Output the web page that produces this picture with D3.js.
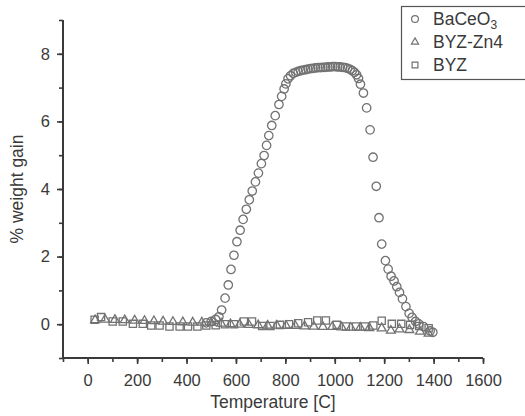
<!DOCTYPE html>
<html>
<head>
<meta charset="utf-8">
<script src="https://cdn.jsdelivr.net/npm/d3@7"></script>
<style>
  body { margin: 0; background: #fff; }
  svg { display: block; font-family: "Liberation Sans", Arial, sans-serif; }
</style>
</head>
<body>
<svg id="chart" width="525" height="416"></svg>
<script>
// BaCeO3 (circles)
const baceoTemp = [480, 500, 518, 531, 542, 556, 569, 580, 592, 604, 617, 629, 642, 654, 666, 679, 691, 703, 714, 724, 733, 745, 759, 774, 785, 795, 802, 811, 821, 832,
  842, 852, 862, 872, 882, 892, 902, 912, 922, 932, 942, 952, 962, 972, 982, 992, 1002, 1012, 1022, 1032, 1042, 1052, 1062, 1071, 1080, 1088, 1096, 1104,
  1116, 1129, 1143, 1155, 1168, 1179, 1190, 1205, 1216, 1228, 1240, 1251, 1262, 1274, 1288, 1301, 1313, 1327, 1340, 1359, 1386, 1397];
const baceoGain = [0.04, 0.08, 0.14, 0.22, 0.42, 0.77, 1.16, 1.62, 2.04, 2.44, 2.78, 3.1, 3.4, 3.68, 3.94, 4.21, 4.47, 4.75, 4.99, 5.29, 5.58, 5.88, 6.17, 6.5, 6.74, 6.96, 7.11, 7.26, 7.35, 7.42,
  7.45, 7.48, 7.5, 7.52, 7.53, 7.55, 7.56, 7.57, 7.58, 7.59, 7.59, 7.6, 7.6, 7.61, 7.61, 7.62, 7.62, 7.61, 7.61, 7.6, 7.59, 7.57, 7.54, 7.5, 7.45, 7.38, 7.27, 7.1,
  6.84, 6.4, 5.75, 4.94, 4.08, 3.15, 2.37, 1.88, 1.63, 1.42, 1.28, 1.11, 0.94, 0.75, 0.52, 0.32, 0.2, 0.08, 0.01, -0.07, -0.2, -0.24];

// BYZ-Zn4 (triangles)
const zn4Temp = [30, 70, 110, 150, 190, 230, 268, 305, 345, 385, 425, 462, 500, 540, 578, 615, 652, 690, 728, 765, 803, 840, 878, 915, 952, 990, 1028, 1065, 1103, 1140, 1190, 1227, 1262, 1302, 1345, 1380];
const zn4Gain = [0.12, 0.14, 0.13, 0.12, 0.11, 0.1, 0.09, 0.08, 0.07, 0.06, 0.05, 0.05, 0.04, 0.02, 0.0, -0.01, -0.02, -0.03, -0.04, -0.04, -0.05, -0.05, -0.06, -0.07, -0.08, -0.08, -0.09, -0.1, -0.1, -0.11, -0.12, -0.19, -0.15, -0.17, -0.22, -0.28];

// BYZ (squares)
const byzTemp = [28, 54, 101, 142, 183, 223, 257, 291, 331, 372, 406, 444, 480, 518, 555, 592, 632, 665, 706, 740, 778, 815, 852, 892, 929, 964, 1008, 1045, 1086, 1122, 1156, 1190, 1231, 1269, 1305, 1342, 1380];
const byzGain = [0.13, 0.21, 0.08, 0.08, 0.01, 0.01, -0.04, -0.04, -0.07, -0.07, -0.07, -0.07, -0.04, -0.03, 0, 0, 0.08, 0.08, -0.05, -0.05, -0.02, 0, 0.03, 0.06, 0.11, 0.11, -0.02, -0.07, -0.07, -0.07, -0.04, 0.1, 0.01, 0.01, -0.02, -0.05, -0.12];

const xTicks = [0, 200, 400, 600, 800, 1000, 1200, 1400, 1600];
const yTicks = [0, 2, 4, 6, 8];
const seriesNames = ["BaCeO\u2083", "BYZ-Zn4", "BYZ"];

const margin = {top: 20, right: 42, bottom: 58, left: 63};
const width = 525, height = 416;
const axisColor = "#3a3a3a", markColor = "#727272";

const svg = d3.select("#chart");

const x = d3.scaleLinear([-100, 1600], [margin.left, width - margin.right]);
const y = d3.scaleLinear([-1, 9], [height - margin.bottom, margin.top]);

const series = [
  {name: seriesNames[0], shape: d3.symbolCircle, size: 56, pts: baceoTemp.map((t, i) => [t, baceoGain[i]])},
  {name: seriesNames[1], shape: d3.symbolTriangle, size: 34, pts: zn4Temp.map((t, i) => [t, zn4Gain[i]])},
  {name: seriesNames[2], shape: d3.symbolSquare, size: 52, pts: byzTemp.map((t, i) => [t, byzGain[i]])}
];

// axes: minor ticks first, then major with labels
const xAxisG = svg.append("g").attr("transform", `translate(0,${height - margin.bottom})`);
xAxisG.append("g")
  .call(d3.axisBottom(x).tickValues(d3.range(-100, 1601, 100)).tickSize(4).tickFormat(""))
  .call(g => g.select(".domain").remove());
xAxisG.append("g")
  .call(d3.axisBottom(x).tickValues(xTicks).tickSize(6).tickPadding(10).tickFormat(d3.format("d")))
  .call(g => g.select(".domain").attr("d", `M${x(-100)},0H${x(1600)}`));

const yAxisG = svg.append("g").attr("transform", `translate(${margin.left},0)`);
yAxisG.append("g")
  .call(d3.axisLeft(y).tickValues(d3.range(-1, 10, 1)).tickSize(4).tickFormat(""))
  .call(g => g.select(".domain").remove());
yAxisG.append("g")
  .call(d3.axisLeft(y).tickValues(yTicks).tickSize(6).tickPadding(7))
  .call(g => g.select(".domain").attr("d", `M0,${y(-1)}V${y(9)}`));

svg.selectAll(".domain").attr("stroke", axisColor).attr("stroke-width", 2);
svg.selectAll(".tick line").attr("stroke", axisColor).attr("stroke-width", 1.6);
svg.selectAll(".tick text").attr("fill", axisColor).attr("font-size", 16.5)
  .attr("font-family", "Liberation Sans, Arial, sans-serif");

svg.append("text")
  .attr("x", x(750)).attr("y", 408)
  .attr("text-anchor", "middle").attr("fill", axisColor).attr("font-size", 17.5)
  .text("Temperature [C]");

svg.append("text")
  .attr("transform", `translate(23,${y(4)}) rotate(-90)`)
  .attr("text-anchor", "middle").attr("fill", axisColor).attr("font-size", 17.5)
  .text("% weight gain");

// marks
const sym = d3.symbol();
series.forEach(s => {
  svg.append("g")
    .selectAll("path")
    .data(s.pts)
    .join("path")
      .attr("transform", d => `translate(${x(d[0])},${y(d[1])})`)
      .attr("d", sym.type(s.shape).size(s.size)())
      .attr("fill", "none")
      .attr("stroke", markColor)
      .attr("stroke-width", 1.3);
});

// legend
const legend = svg.append("g").attr("transform", "translate(401,6)");
legend.append("rect")
  .attr("x", 0.5).attr("y", 0.5).attr("width", 130).attr("height", 73)
  .attr("fill", "#fff").attr("stroke", "#555").attr("stroke-width", 1.2);
series.forEach((s, i) => {
  const row = legend.append("g").attr("transform", `translate(0,${13 + i * 23})`);
  row.append("path")
    .attr("transform", "translate(14,0)")
    .attr("d", sym.type(s.shape).size(s.size * 0.65)())
    .attr("fill", "none").attr("stroke", markColor).attr("stroke-width", 1.2);
  const t = row.append("text").attr("x", 32).attr("y", 6).attr("fill", axisColor).attr("font-size", 17.5);
  if (i === 0) {
    t.append("tspan").text("BaCeO");
    t.append("tspan").attr("font-size", 12).attr("dy", 4).text("3");
  } else {
    t.text(s.name);
  }
});
</script>
</body>
</html>
